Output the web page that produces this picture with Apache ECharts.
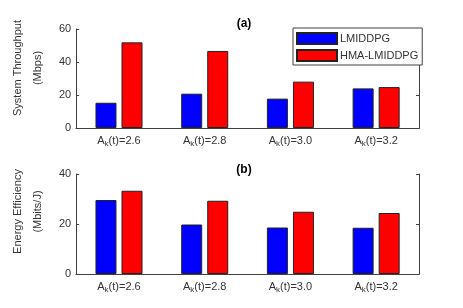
<!DOCTYPE html>
<html>
<head>
<meta charset="utf-8">
<script src="https://cdn.jsdelivr.net/npm/echarts@6/dist/echarts.min.js"></script>
<style>
  html, body { margin: 0; padding: 0; background: #fff; }
  #chart { width: 463px; height: 308px; }
</style>
</head>
<body>
<div id="chart"></div>
<script>
// data
const categories = ['2.6', '2.8', '3.0', '3.2'];
const seriesNames = ['LMIDDPG', 'HMA-LMIDDPG'];
const throughputLmiddpg = [15.3, 20.8, 17.8, 24.0];
const throughputHma = [51.9, 46.7, 28.1, 24.8];
const efficiencyLmiddpg = [29.6, 19.8, 18.6, 18.5];
const efficiencyHma = [33.3, 29.3, 24.9, 24.4];
const throughputTicks = [0, 20, 40, 60];
const efficiencyTicks = [0, 20, 40];

const FONT = 'Liberation Sans';
const AXIS = '#404040';
const TEXT = '#333333';

const chart = echarts.init(document.getElementById('chart'));

function catLabel(v) {
  return '{a|A}{s|k}{a|(t)=' + v + '}';
}
const labelRich = {
  a: { fontFamily: FONT, fontSize: 11, color: TEXT },
  s: { fontFamily: FONT, fontSize: 8, color: TEXT, padding: [7, 0, 0, 0] }
};

function xAxes(gridIndex) {
  return [
    {
      type: 'category', gridIndex: gridIndex, data: categories,
      axisLine: { lineStyle: { color: AXIS, width: 1 } },
      axisTick: { inside: true, length: 3, alignWithLabel: true, lineStyle: { color: AXIS } },
      axisLabel: { formatter: catLabel, rich: labelRich, margin: 5, interval: 0 }
    },
    {
      type: 'category', gridIndex: gridIndex, data: categories, position: 'top',
      axisLine: { lineStyle: { color: AXIS, width: 1 } },
      axisTick: { inside: true, length: 3, alignWithLabel: true, lineStyle: { color: AXIS } },
      axisLabel: { show: false }
    }
  ];
}

function yAxes(gridIndex, ticks, name, padTop) {
  const max = ticks[ticks.length - 1];
  const common = {
    type: 'value', gridIndex: gridIndex, min: 0, max: max, interval: 20,
    splitLine: { show: false },
    axisLine: { show: true, lineStyle: { color: AXIS, width: 1 } },
    axisTick: { show: true, inside: true, length: 3, lineStyle: { color: AXIS } }
  };
  return [
    Object.assign({}, common, {
      position: 'left',
      name: name,
      nameLocation: 'middle',
      nameGap: 22,
      nameTextStyle: {
        fontFamily: FONT, fontSize: 11, color: TEXT, lineHeight: 20,
        padding: [0, 0, 0, padTop]
      },
      axisLabel: { fontFamily: FONT, fontSize: 11, color: TEXT, margin: 5 }
    }),
    Object.assign({}, common, {
      position: 'right',
      axisLabel: { show: false }
    })
  ];
}

function barSeries(name, data, color, xi, yi) {
  return {
    type: 'bar', name: name, data: data,
    xAxisIndex: xi, yAxisIndex: yi,
    barWidth: 21, barGap: '24%',
    itemStyle: { color: color, borderColor: '#222', borderWidth: 1 }
  };
}

chart.setOption({
  animation: false,
  title: [
    { text: '(a)', left: 239, top: 13, textAlign: 'center',
      textStyle: { fontFamily: FONT, fontSize: 12, fontWeight: 'bold', color: '#000' } },
    { text: '(b)', left: 239, top: 159, textAlign: 'center',
      textStyle: { fontFamily: FONT, fontSize: 12, fontWeight: 'bold', color: '#000' } }
  ],
  legend: {
    data: seriesNames,
    orient: 'vertical',
    left: 293, top: 28,
    padding: [4, 4, 3, 3],
    itemWidth: 40, itemHeight: 11, itemGap: 4,
    icon: 'rect',
    backgroundColor: '#fff',
    borderColor: AXIS, borderWidth: 1,
    textStyle: { fontFamily: FONT, fontSize: 11, color: TEXT, padding: [0, 0, 0, -2] }
  },
  grid: [
    { left: 60, top: 29, width: 359, height: 99 },
    { left: 60, top: 174, width: 359, height: 100 }
  ],
  xAxis: xAxes(0).concat(xAxes(1)),
  yAxis: yAxes(0, throughputTicks, 'System Throughput\n(Mbps)', 21)
    .concat(yAxes(1, efficiencyTicks, 'Energy Efficiency\n(Mbits/J)', 25)),
  series: [
    barSeries(seriesNames[0], throughputLmiddpg, '#0000ff', 0, 0),
    barSeries(seriesNames[1], throughputHma, '#ff0000', 0, 0),
    barSeries(seriesNames[0], efficiencyLmiddpg, '#0000ff', 2, 2),
    barSeries(seriesNames[1], efficiencyHma, '#ff0000', 2, 2)
  ]
});
</script>
</body>
</html>
